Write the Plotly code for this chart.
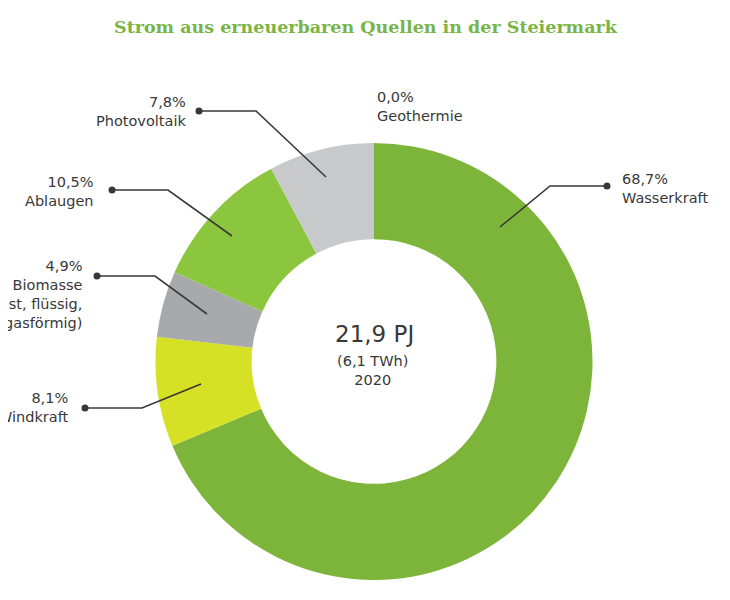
import plotly.graph_objects as go

# the page body has an 8px margin, so the figure is drawn 8px in from the corner
OFF = 8
W, H = 730 - OFF, 600 - OFF

# data
sources = ["Wasserkraft", "Windkraft", "Biomasse", "Ablaugen", "Photovoltaik", "Geothermie"]
shares = [68.7, 8.1, 4.9, 10.5, 7.8, 0.0]
colors = ["#7db43a", "#d6e024", "#a7a9ac", "#8cc63f", "#c8c9cb", "#e0e0e0"]
label_lines = [
    ["Wasserkraft"],
    ["Windkraft"],
    ["Biomasse", "(fest, flüssig,", "gasförmig)"],
    ["Ablaugen"],
    ["Photovoltaik"],
    ["Geothermie"],
]
total_pj = "21,9 PJ"
total_twh = "(6,1 TWh)"
year = "2020"


def fmt(v):
    return f"{v:.1f}".replace(".", ",") + "%"


def px(x):
    return (x - OFF) / W


def py(y):
    return 1 - (y - OFF) / H


# label placement in page pixels: text block anchor, dot, elbow, end inside the slice
callouts = {
    "Wasserkraft": dict(tx=620, ty=189, align="left", dot=(607, 186), elbow=(550, 186), end=(500, 227)),
    "Windkraft": dict(tx=71, ty=407, align="right", dot=(85, 408), elbow=(142, 408), end=(201, 384)),
    "Biomasse": dict(tx=84, ty=294, align="right", dot=(97, 276), elbow=(155, 276), end=(207, 314)),
    "Ablaugen": dict(tx=96, ty=192, align="right", dot=(112, 190), elbow=(168, 190), end=(232, 236)),
    "Photovoltaik": dict(tx=188, ty=112, align="right", dot=(199, 111), elbow=(256, 111), end=(326, 177)),
    "Geothermie": dict(tx=375, ty=107, align="left", dot=None),
}

text_col = "#383838"
font_name = "DejaVu Sans"

fig = go.Figure()
fig.add_trace(go.Pie(
    labels=sources,
    values=shares,
    marker=dict(colors=colors, line=dict(width=0)),
    hole=0.56,
    sort=False,
    direction="clockwise",
    rotation=0,
    textinfo="none",
    hoverinfo="label+percent",
    domain=dict(x=[px(155.5), px(592.5)], y=[py(580), py(143)]),
    showlegend=False,
))

annotations = []
shapes = []
for name, val, lines in zip(sources, shares, label_lines):
    c = callouts[name]
    side = "right" if c["align"] == "right" else "left"
    annotations.append(dict(
        x=px(c["tx"]), y=py(c["ty"]), xref="paper", yref="paper",
        text="<br>".join([fmt(val)] + lines), showarrow=False,
        xanchor=side, align=side, yanchor="middle",
        font=dict(family=font_name, size=14.5, color=text_col),
    ))
    if c["dot"]:
        (dx, dy), (ex, ey), (fx, fy) = c["dot"], c["elbow"], c["end"]
        shapes.append(dict(
            type="path", xref="paper", yref="paper",
            path=f"M {px(dx)} {py(dy)} L {px(ex)} {py(ey)} L {px(fx)} {py(fy)}",
            line=dict(color=text_col, width=1.6),
        ))
        r = 3.5
        shapes.append(dict(
            type="circle", xref="paper", yref="paper",
            x0=px(dx - r), x1=px(dx + r), y0=py(dy + r), y1=py(dy - r),
            fillcolor=text_col, line=dict(width=0),
        ))

# centre text and title
annotations += [
    dict(x=px(374), y=py(334), xref="paper", yref="paper", text=total_pj, showarrow=False,
         xanchor="center", yanchor="middle",
         font=dict(family=font_name, size=23, color=text_col)),
    dict(x=px(373), y=py(370), xref="paper", yref="paper", text=f"{total_twh}<br>{year}",
         showarrow=False, xanchor="center", yanchor="middle",
         font=dict(family=font_name, size=14.5, color=text_col)),
    dict(x=px(366), y=py(27), xref="paper", yref="paper",
         text="<b>Strom aus erneuerbaren Quellen in der Steiermark</b>", showarrow=False,
         xanchor="center", yanchor="middle",
         font=dict(family="DejaVu Serif", size=17.5, color="#79b445")),
]

fig.update_layout(
    width=W, height=H,
    margin=dict(l=0, r=0, t=0, b=0),
    paper_bgcolor="white",
    plot_bgcolor="white",
    annotations=annotations,
    shapes=shapes,
)

fig.write_html("out.html")
